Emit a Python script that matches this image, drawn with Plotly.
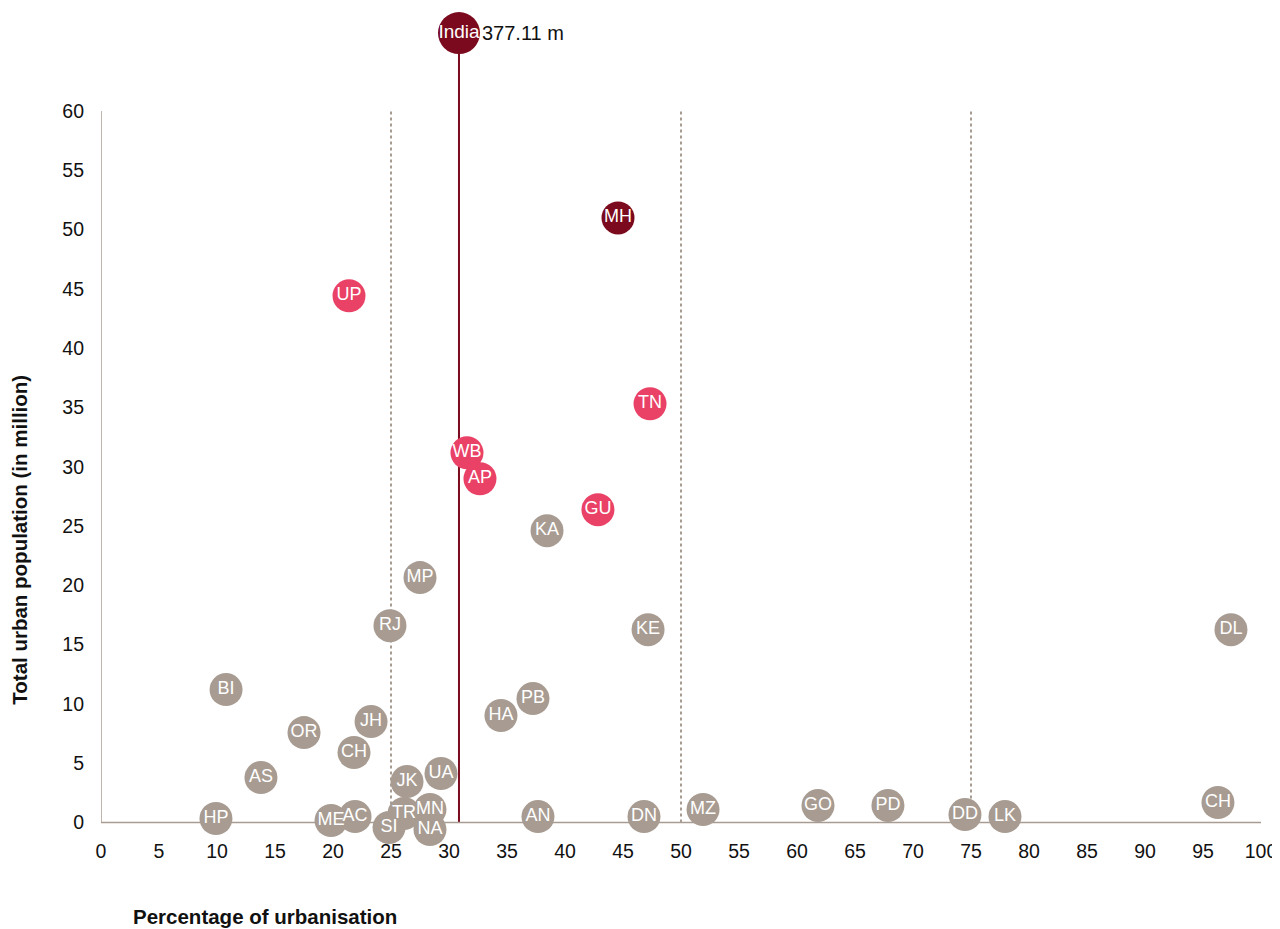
import plotly.graph_objects as go

# ---- data ----
gray_codes = ["KA", "MP", "RJ", "KE", "DL", "BI", "PB", "HA", "JH", "OR", "CH", "AS", "JK", "UA",
              "HP", "ME", "AC", "SI", "TR", "MN", "NA", "AN", "DN", "MZ", "GO", "PD", "DD", "LK", "CH"]
gray_x = [38.45, 27.5, 24.91, 47.16, 97.41, 10.78, 37.24, 34.48, 23.28, 17.5, 21.81, 13.79, 26.38, 29.31,
          9.91, 19.83, 21.9, 24.83, 26.12, 28.36, 28.36, 37.67, 46.81, 51.9, 61.81, 67.84, 74.48, 77.93, 96.29]
gray_y = [24.61, 20.65, 16.6, 16.26, 16.26, 11.21, 10.45, 9.02, 8.51, 7.58, 5.9, 3.79, 3.45, 4.13,
          0.34, 0.17, 0.5, -0.42, 0.76, 1.1, -0.59, 0.5, 0.5, 1.1, 1.43, 1.43, 0.67, 0.5, 1.69]

pink_codes = ["UP", "TN", "WB", "AP", "GU"]
pink_x = [21.38, 47.33, 31.55, 32.67, 42.84]
pink_y = [44.41, 35.31, 31.18, 28.99, 26.38]

dark_codes = ["MH"]
dark_x = [44.57]
dark_y = [50.98]

india_label = "India"
india_x = 30.86
india_y = 66.57
india_total = "377.11 m"

x_ticks = list(range(0, 101, 5))
y_ticks = list(range(0, 61, 5))
guide_x = [25, 50, 75]

GRAY = "#a89c92"
PINK = "#ea4167"
DARK = "#7b0a1e"
FONT = "Liberation Sans, Arial, sans-serif"

fig = go.Figure()

def add_group(xs, ys, codes, color, size, tsize=18):
    fig.add_trace(go.Scatter(
        x=xs, y=ys, text=codes, mode="markers+text",
        marker=dict(size=size, color=color, line=dict(width=0)),
        textposition="middle center",
        textfont=dict(color="white", size=tsize, family=FONT),
        cliponaxis=False, hoverinfo="skip", showlegend=False))

add_group(gray_x, gray_y, gray_codes, GRAY, 33)
add_group(pink_x, pink_y, pink_codes, PINK, 33)
add_group(dark_x, dark_y, dark_codes, DARK, 33)

# India line
fig.add_shape(type="line", x0=india_x, x1=india_x, y0=0, y1=india_y,
              xref="x", yref="y", line=dict(color=DARK, width=2), layer="below")
add_group([india_x], [india_y], [india_label], DARK, 42, 19)

fig.add_annotation(x=india_x, y=india_y, xref="x", yref="y", text=india_total,
                   showarrow=False, xanchor="left", yanchor="middle", xshift=21,
                   font=dict(size=20, color="#111111", family=FONT))

# guides
for gx in guide_x:
    fig.add_shape(type="line", x0=gx, x1=gx, y0=0, y1=max(y_ticks), xref="x", yref="y",
                  line=dict(color="#a89c92", width=2, dash="dot"), layer="below")
# axis lines
fig.add_shape(type="line", x0=0, x1=max(x_ticks), y0=0, y1=0, xref="x", yref="y",
              line=dict(color=GRAY, width=1.5), layer="below")
fig.add_shape(type="line", x0=0, x1=0, y0=0, y1=max(y_ticks), xref="x", yref="y",
              line=dict(color=GRAY, width=1.5), layer="below")

fig.add_annotation(text="<b>Total urban population (in million)</b>", xref="paper", yref="paper",
                   x=-0.0698, y=0.36, textangle=-90, showarrow=False, xanchor="center", yanchor="middle",
                   font=dict(size=20.5, color="#111111", family=FONT))
fig.add_annotation(text="<b>Percentage of urbanisation</b>", xref="paper", yref="paper",
                   x=0.0259, y=-0.104, xanchor="left", yanchor="middle", showarrow=False,
                   font=dict(size=20.5, color="#111111", family=FONT))

fig.update_xaxes(range=[0, 100], tickvals=x_ticks, showgrid=False, zeroline=False, showline=False,
                 automargin=False, ticks="", ticklabelstandoff=5,
                 tickfont=dict(size=19.5, color="#111111", family=FONT))
fig.update_yaxes(range=[-0.8, 67.67], tickvals=y_ticks, showgrid=False, zeroline=False, showline=False,
                 automargin=False, ticks="", ticklabelstandoff=16,
                 tickfont=dict(size=19.5, color="#111111", family=FONT))

fig.update_layout(width=1272, height=921, margin=dict(l=93, r=19, t=12, b=96.5, autoexpand=False),
                  plot_bgcolor="white", paper_bgcolor="white", font=dict(family=FONT))

fig.write_html("out.html")
